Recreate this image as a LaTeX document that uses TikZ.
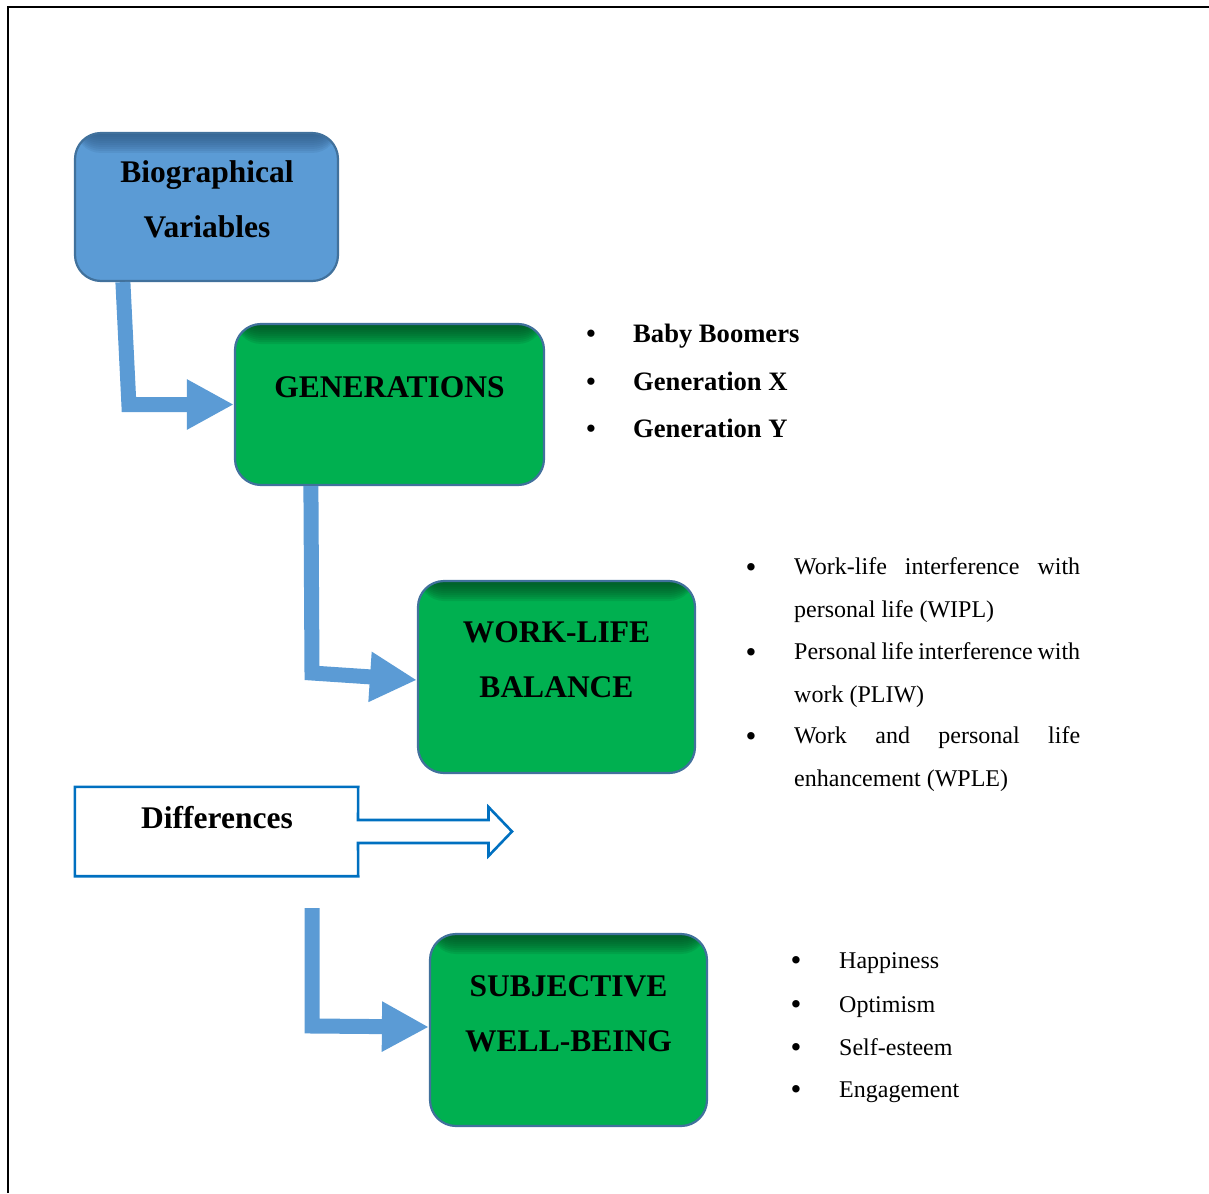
\documentclass[tikz,border=0pt]{standalone}
\usepackage{fontspec}
\setmainfont{Liberation Serif}
\usetikzlibrary{arrows.meta,calc}

\definecolor{boxblue}{HTML}{5B9BD5}
\definecolor{boxbluetop}{HTML}{2F5A85}
\definecolor{boxedge}{HTML}{41719C}
\definecolor{boxgreen}{HTML}{00B050}
\definecolor{boxgreentop}{HTML}{004A20}
\definecolor{diffblue}{HTML}{0070C0}

\tikzset{
  % rounded box with a darker band fading in from the top edge,
  % built from stacked translucent strips
  roundbox/.style={draw=boxedge, line width=2.2pt, rounded corners=26pt,
    inner sep=0pt, fill=#1,
    path picture={\foreach \k in {2,4,...,20}
      \fill[#1top, opacity=0.13]
        (path picture bounding box.north west) rectangle
        ([yshift=-\k pt]path picture bounding box.north east);}},
  boxlabel/.style={font=\fontsize{31.5}{55}\selectfont\bfseries, align=center,
    inner sep=0pt},
  bolditem/.style={font=\fontsize{26.6}{47.5}\selectfont\bfseries, inner sep=0pt},
  plainitem/.style={font=\fontsize{24}{42.2}\selectfont, inner sep=0pt, align=left},
  dotitem/.style={font=\fontsize{31}{31}\selectfont, inner sep=0pt},
  bigarrow/.style={draw=boxblue, line width=15pt, line join=miter,
    -{Triangle[length=47pt,width=47pt]}},
  diffshape/.style={draw=diffblue, line width=2.6pt, line join=miter},
}

\begin{document}
\begin{tikzpicture}[x=1pt,y=-1pt]
\useasboundingbox (0,0) rectangle (1209,1193);

% page frame (top and left edges)
\draw[line width=2pt] (7.5,1193) -- (7.5,6.7) -- (1209,6.7);

% boxes
\node[roundbox=boxblue,  minimum width=263pt, minimum height=148pt] (bio) at (206.5,207) {};
\node[roundbox=boxgreen, minimum width=309pt, minimum height=161pt] (gen) at (389.5,404.5) {};
\node[roundbox=boxgreen, minimum width=277pt, minimum height=192pt] (wlb) at (556.5,677) {};
\node[roundbox=boxgreen, minimum width=277pt, minimum height=192pt] (swb) at (568.5,1030) {};

% box titles (base anchor sits on the last line)
\node[boxlabel, anchor=base] (biotext) at (207,237) {Biographical\\Variables};
\node[boxlabel, anchor=base] (gentext) at (389.5,397) {GENERATIONS};
\node[boxlabel, anchor=base] (wlbtext) at (556.5,697) {WORK-LIFE\\BALANCE};
\node[boxlabel, anchor=base] (swbtext) at (568.5,1051) {SUBJECTIVE\\WELL-BEING};

% thick connectors
\draw[bigarrow] ($(bio.south west)+(49,0)$) -- ($(gen.west -| bio.south west)+(55,0)$) -- (gen.west);
\draw[bigarrow] ($(gen.south west)+(77,0)$) -- (312,673) -- ([yshift=-3pt]wlb.west);
\coordinate (swbstart) at (312,908);
\draw[bigarrow] (swbstart) -- (312,1026) -- ([yshift=3pt]swb.west);

% "Differences" box with its outlined arrow
\node[minimum width=283pt, minimum height=89pt, inner sep=0pt] (diff) at (216.5,831.5) {};
\draw[diffshape] (diff.south east) -- (diff.south west) -- (diff.north west) -- (diff.north east)
  -- (358,820) -- (488.5,820) -- (488.5,807) -- (512,831.5) -- (488.5,856) -- (488.5,843)
  -- (358,843) -- cycle;
\node[boxlabel, anchor=base] (difftext) at (217,828) {Differences};

% generations list
\node[bolditem, anchor=base] (b1a) at (591,342) {•};
\node[bolditem, anchor=base] (b1b) at (591,390) {•};
\node[bolditem, anchor=base] (b1c) at (591,437) {•};
\node[bolditem, anchor=base west] (g1) at (633,342) {Baby Boomers};
\node[bolditem, anchor=base west] (g2) at (633,390) {Generation X};
\node[bolditem, anchor=base west] (g3) at (633,437) {Generation Y};

% work-life balance list
\node[dotitem, anchor=base] (b2a) at (751,577) {•};
\node[dotitem, anchor=base] (b2b) at (751,662) {•};
\node[dotitem, anchor=base] (b2c) at (751,746) {•};
\node[plainitem, anchor=base west] (w1) at (794,617)
  {\makebox[286pt][s]{Work-life interference with}\\personal life (WIPL)};
\node[plainitem, anchor=base west] (w2) at (794,702)
  {\makebox[286pt][s]{Personal life interference with}\\work (PLIW)};
\node[plainitem, anchor=base west] (w3) at (794,786)
  {\makebox[286pt][s]{Work and personal life}\\enhancement (WPLE)};

% subjective well-being list
\node[dotitem, anchor=base] (b3a) at (796,970) {•};
\node[dotitem, anchor=base] (b3b) at (796,1014) {•};
\node[dotitem, anchor=base] (b3c) at (796,1057) {•};
\node[dotitem, anchor=base] (b3d) at (796,1099) {•};
\node[plainitem, anchor=base west] (s1) at (839,968) {Happiness};
\node[plainitem, anchor=base west] (s2) at (839,1012) {Optimism};
\node[plainitem, anchor=base west] (s3) at (839,1055) {Self-esteem};
\node[plainitem, anchor=base west] (s4) at (839,1097) {Engagement};
\end{tikzpicture}
\end{document}
